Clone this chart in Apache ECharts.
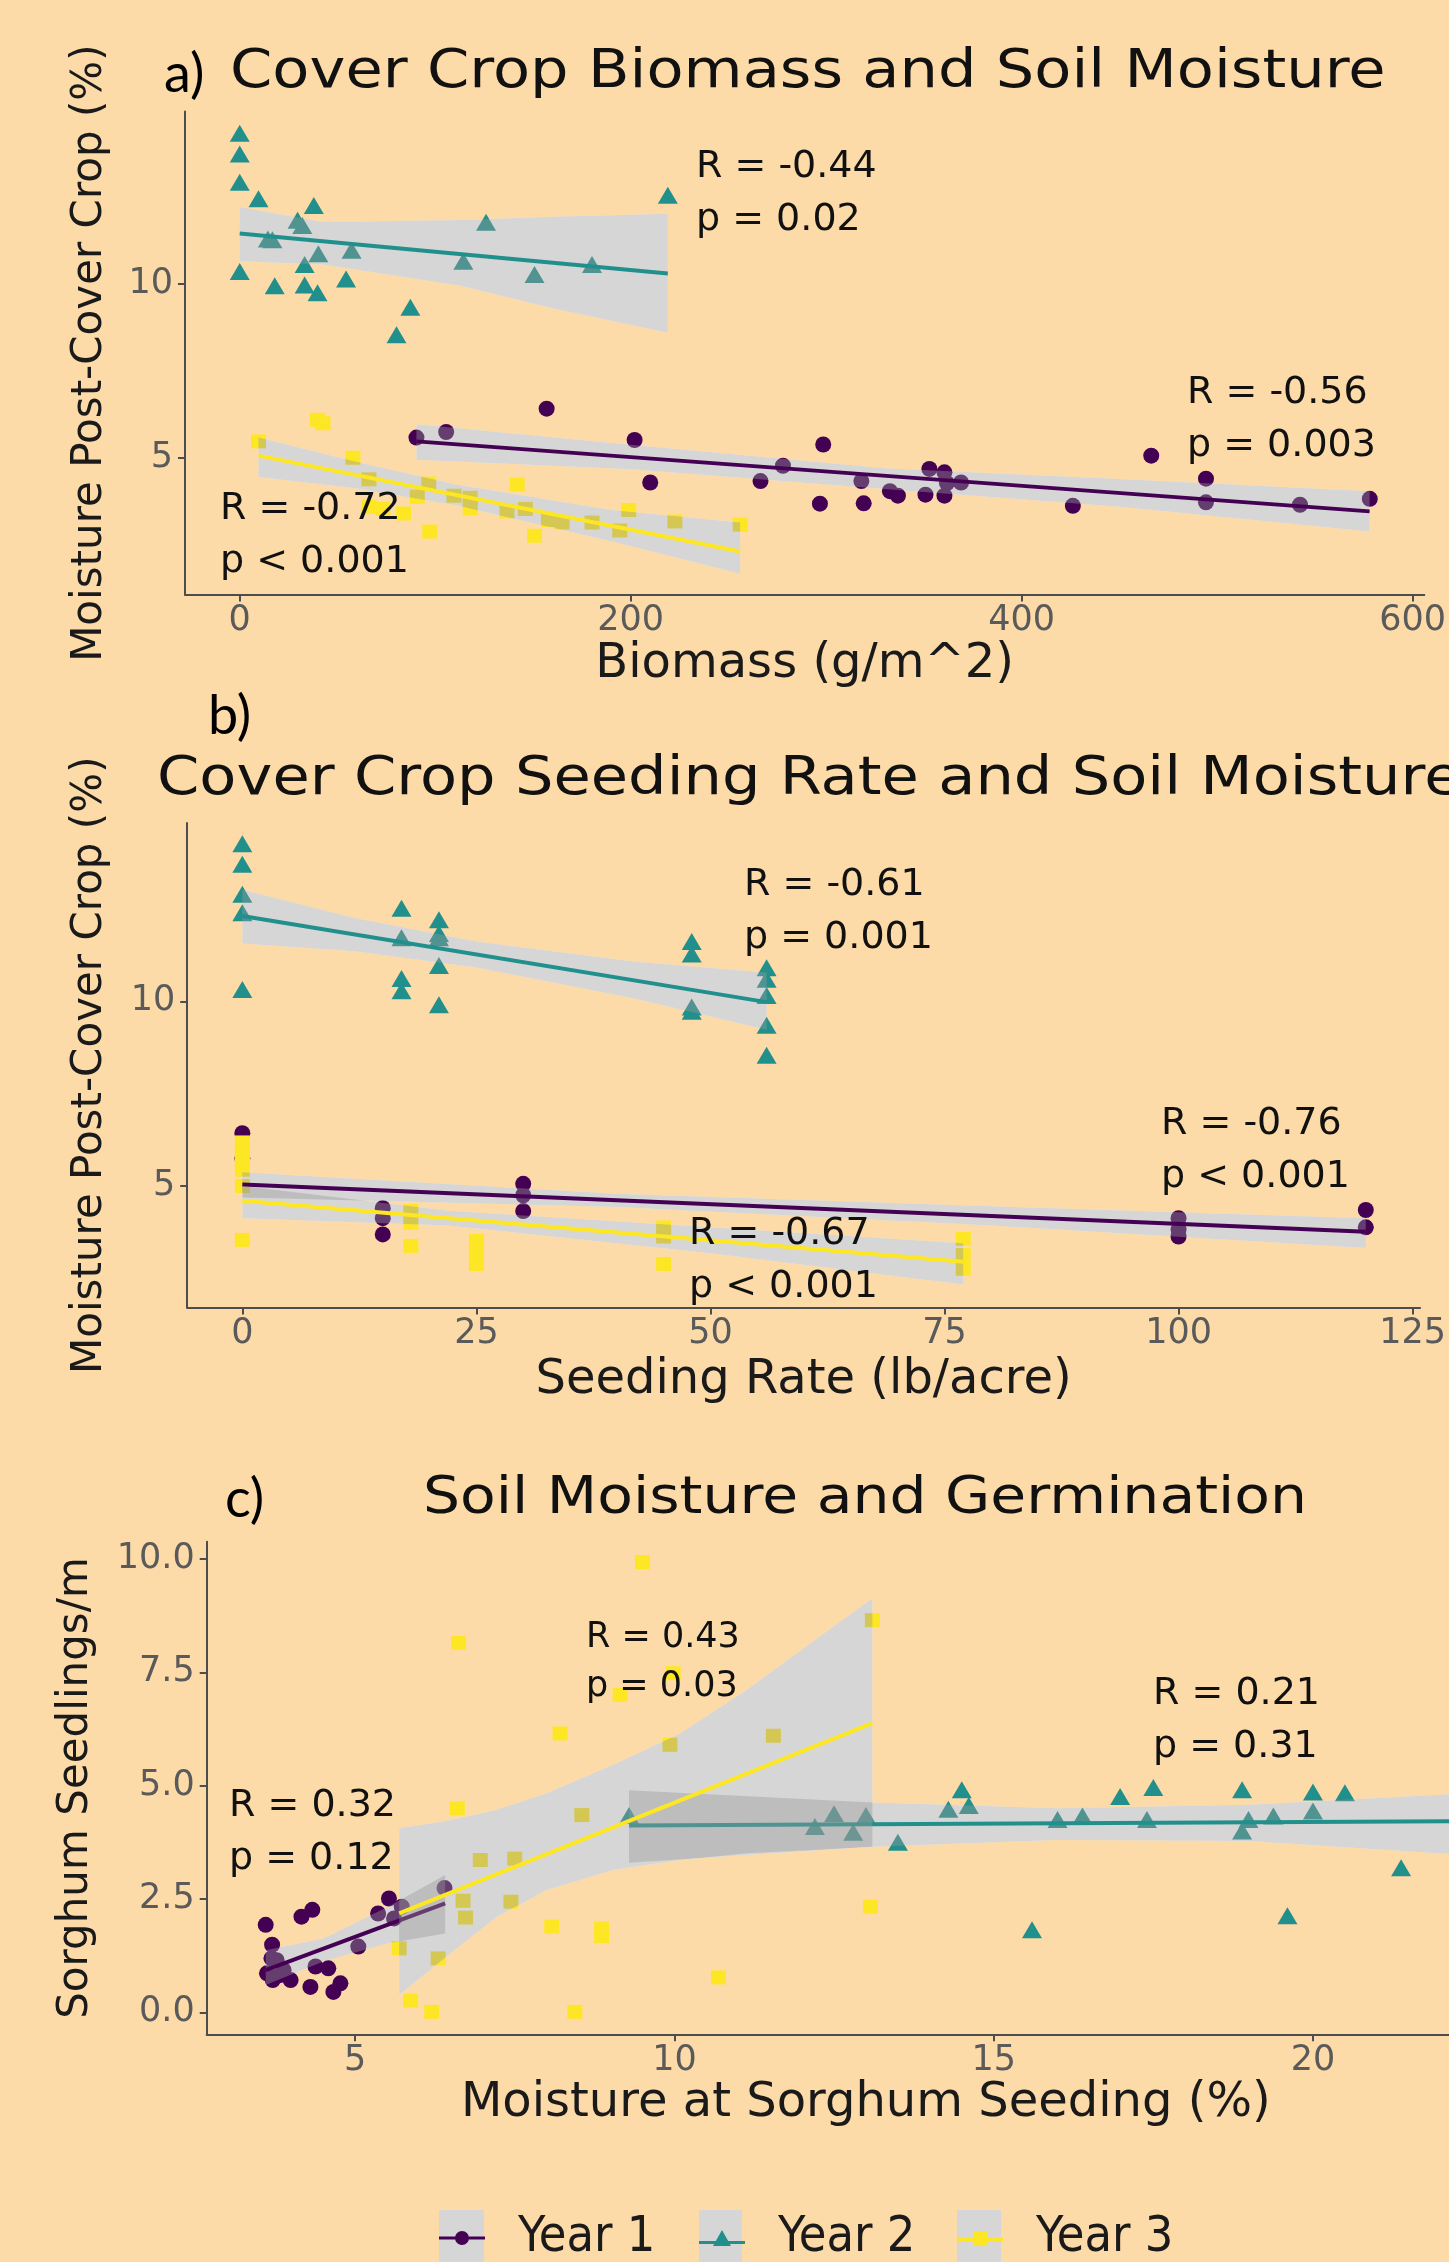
<!DOCTYPE html>
<html><head><meta charset="utf-8">
<script src="https://cdn.jsdelivr.net/npm/echarts@6/dist/echarts.min.js"></script>
<style>html,body{margin:0;padding:0;background:#FDDBA8}#c{width:1449px;height:2262px}</style>
</head><body><div id="c"></div>
<script>
// ---------- names ----------
var yearNames = ['Year 1', 'Year 2', 'Year 3'];
var yearColors = ['#440154', '#21908C', '#FDE725'];
var yearSymbols = ['circle', 'triangle', 'rect'];

// ---------- panel a: Biomass vs moisture ----------
var aYear1 = [[90.4,5.58],[105.6,5.74],[157,6.41],[202,5.51],[210,4.29],[266.4,4.33],[277.9,4.77],[298.5,5.38],[296.8,3.68],[318,4.33],[319.2,3.69],[332.6,4.04],[336.7,3.91],[350.8,3.94],[352.8,4.68],[360.5,4.58],[360.5,3.91],[361.8,4.27],[369,4.29],[426.2,3.62],[466.3,5.06],[494.3,4.40],[494.3,3.72],[542.4,3.65],[578.1,3.82]];
var aYear2 = [[0,14.32],[0,13.72],[0,12.91],[9.6,12.44],[37.9,12.24],[29.6,11.82],[32,11.67],[14.4,11.28],[16.7,11.26],[126,11.76],[219,12.54],[40.2,10.86],[57.2,10.96],[33.2,10.55],[114.4,10.64],[180.2,10.55],[0,10.35],[54.4,10.13],[150.8,10.26],[17.9,9.94],[33.2,9.96],[39.8,9.74],[87.3,9.32],[80.2,8.53]];
var aYear3 = [[9.6,5.47],[39.8,6.09],[42.6,5.99],[57.9,5.0],[66.1,4.38],[96.7,4.26],[90.8,3.88],[66.1,3.59],[73.2,3.53],[83.8,3.40],[97.2,2.88],[109.6,3.91],[117.9,3.85],[117.9,3.55],[136.7,3.46],[141.9,4.23],[146.1,3.53],[150.8,2.76],[157.9,3.21],[164.9,3.14],[180.2,3.14],[194.4,2.91],[199,3.5],[222.6,3.17],[256,3.08]];
var aLine1 = [[90.4,5.47],[578,3.46]];
var aLine2 = [[0,11.44],[219,10.29]];
var aLine3 = [[9.6,5.06],[256,2.31]];
var aBand1 = [[90.4,4.94,5.96],[200,4.67,5.37],[330,4.10,4.70],[450,3.59,4.39],[578,2.88,4.04]];
var aBand2 = [[0,10.64,12.20],[42.6,10.55,11.77],[113,9.94,11.83],[160,9.29,11.92],[219,8.59,12.01]];
var aBand3 = [[9.6,4.45,5.58],[60,4.12,4.88],[110,3.64,4.24],[190,2.60,3.50],[256,1.67,3.14]];
var aXTicks = [0,200,400,600];
var aYTicks = [5,10];

// ---------- panel b: seeding rate vs moisture ----------
var bYear1 = [[0,6.43],[0,5.75],[15,4.40],[15,4.13],[15,3.69],[30,5.06],[30,4.75],[30,4.32],[100,4.13],[100,3.82],[100,3.63],[120,4.35],[120,3.88]];
var bYear2 = [[0,14.27],[0,13.71],[0,12.90],[0,12.40],[0,10.32],[17,12.52],[17,11.72],[17,10.62],[17,10.29],[21,12.21],[21,11.84],[21,11.72],[21,10.97],[21,9.91],[48,11.62],[48,11.28],[48,9.85],[48,9.73],[56,10.91],[56,10.60],[56,10.16],[56,9.35],[56,8.54]];
var bYear3 = [[0,6.18],[0,6.0],[0,5.81],[0,5.62],[0,5.44],[0,5.0],[0,3.54],[18,4.32],[18,4.0],[18,3.38],[25,3.51],[25,3.2],[25,2.89],[45,3.88],[45,3.63],[45,2.89],[77,3.57],[77,3.13],[77,2.76]];
var bLine1 = [[0,5.04],[120,3.76]];
var bLine2 = [[0,12.31],[56,9.98]];
var bLine3 = [[0,4.60],[77,2.95]];
var bBand1 = [[0,4.69,5.37],[40,4.43,4.79],[80,3.93,4.45],[120,3.32,4.13]];
var bBand2 = [[0,11.57,13.02],[12,11.36,12.26],[25,10.92,11.62],[42,10.07,11.07],[56,9.23,10.78]];
var bBand3 = [[0,4.13,5.0],[22,3.93,4.33],[50,3.18,3.88],[77,2.33,3.45]];
var bXTicks = [0,25,50,75,100,125];
var bYTicks = [5,10];

// ---------- panel c: moisture vs germination ----------
var cYear1 = [[3.60,1.93],[3.70,1.49],[3.69,1.19],[3.62,0.86],[3.71,0.71],[3.88,0.93],[3.99,0.71],[4.16,2.11],[4.33,2.26],[4.30,0.56],[4.38,1.01],[4.58,0.97],[4.66,0.45],[4.77,0.64],[5.05,1.45],[5.36,2.18],[5.53,2.51],[5.61,2.07],[5.73,2.33],[6.40,2.74],[3.77,1.15],[3.82,0.82]];
var cYear2 = [[9.29,4.34],[12.20,4.10],[12.50,4.38],[12.80,3.97],[13.0,4.34],[13.5,3.75],[14.29,4.48],[14.50,4.91],[14.61,4.56],[15.6,1.82],[16.0,4.25],[16.39,4.33],[16.98,4.76],[17.5,4.96],[17.4,4.25],[18.89,4.91],[18.99,4.25],[18.89,4.0],[19.38,4.33],[19.6,2.13],[20.0,4.86],[20.0,4.44],[20.5,4.84],[21.38,3.19]];
var cYear3 = [[5.69,1.41],[5.87,0.26],[6.20,0.01],[6.30,1.19],[6.62,8.15],[6.60,4.50],[6.69,2.46],[6.73,2.09],[6.96,3.36],[7.44,2.44],[7.50,3.39],[8.08,1.89],[8.21,6.15],[8.44,0.01],[8.55,4.35],[8.86,1.85],[8.86,1.68],[9.15,7.00],[9.50,9.93],[9.93,5.90],[9.98,7.48],[10.69,0.77],[11.55,6.10],[13.07,2.33],[13.10,8.65]];
var cLine1 = [[3.60,0.93],[6.41,2.40]];
var cLine2 = [[9.29,4.12],[23,4.22]];
var cLine3 = [[5.69,2.18],[13.1,6.38]];
var cBand1 = [[3.60,0.60,1.37],[4.5,1.12,1.63],[5.5,1.52,2.32],[6.41,1.74,3.03]];
var cBand2 = [[9.29,3.30,4.90],[13.1,3.65,4.63],[16.0,3.80,4.50],[19.0,3.78,4.58],[22.13,3.49,4.81],[23,3.38,4.92]];
var cBand3 = [[5.69,0.38,4.06],[6.43,1.23,4.22],[7.22,2.11,4.47],[8.0,2.70,4.83],[9.04,3.14,5.46],[10.09,3.36,6.15],[11.13,3.51,7.11],[12.17,3.58,8.18],[13.1,3.65,9.13]];
var cXTicks = [5,10,15,20];
var cYTicks = [0,2.5,5,7.5,10];

// ---------- texts ----------
var panelLetters = ['a)', 'b)', 'c)'];
var panelTitles = ['Cover Crop Biomass and Soil Moisture', 'Cover Crop Seeding Rate and Soil Moisture', 'Soil Moisture and Germination'];
var xNames = ['Biomass (g/m^2)', 'Seeding Rate (lb/acre)', 'Moisture at Sorghum Seeding (%)'];
var yNames = ['Moisture Post-Cover Crop (%)', 'Moisture Post-Cover Crop (%)', 'Sorghum Seedlings/m'];
var statLabels = [
  ['R = -0.44','p = 0.02'],['R = -0.56','p = 0.003'],['R = -0.72','p < 0.001'],
  ['R = -0.61','p = 0.001'],['R = -0.76','p < 0.001'],['R = -0.67','p < 0.001'],
  ['R = 0.32','p = 0.12'],['R = 0.43','p = 0.03'],['R = 0.21','p = 0.31']
];

// ---------- layout (styles / positions) ----------
var FONT = "'DejaVu Sans','Liberation Sans',sans-serif";
var grids = [
  {left:185, top:111.6, width:1246, height:483},
  {left:187.2, top:823, width:1261.8, height:484.5},
  {left:206.7, top:1541.7, width:1242.3, height:492.6}
];
var xRanges = [[-28,606],[-5.89,125.8],[2.676,22.13]];
var yRanges = [[1.07,14.94],[1.71,14.83],[-0.485,10.38]];
var xNameGap = [46, 49.5, 45.7];
var yNameGap = [74, 76, 110];
var xNamePad = [[0,0,0,0],[0,0,0,0],[0,0,0,76]];
var statPos = [[696,167,38],[1187,393,38],[220,509,38],[744,885,38],[1161,1124,38],[689,1234,38],[229,1806,38],[586,1638,35],[1153,1694,38]];
var letterPos = [[164,75],[208,717],[225,1500]];
var titlePos = [[230,73.5,53],[157,780,53],[423,1500,51]];

var panels = [
  {pts:[aYear1,aYear2,aYear3], lines:[aLine1,aLine2,aLine3], bands:[aBand1,aBand2,aBand3], xt:aXTicks, yt:aYTicks, fmt:function(v){return String(v);}},
  {pts:[bYear1,bYear2,bYear3], lines:[bLine1,bLine2,bLine3], bands:[bBand1,bBand2,bBand3], xt:bXTicks, yt:bYTicks, fmt:function(v){return String(v);}},
  {pts:[cYear1,cYear2,cYear3], lines:[cLine1,cLine2,cLine3], bands:[cBand1,cBand2,cBand3], xt:cXTicks, yt:cYTicks, fmt:function(v){return v.toFixed(1);}}
];

function bandRender(fill) {
  return function (params, api) {
    if (params.dataIndexInside !== 0) return null;
    var n = params.dataInsideLength, lo = [], up = [];
    for (var i = 0; i < n; i++) {
      var x = api.value(0, i);
      lo.push(api.coord([x, api.value(1, i)]));
      up.push(api.coord([x, api.value(2, i)]));
    }
    return {type:'polygon', shape:{points: lo.concat(up.reverse())}, style:{fill: fill}, silent:true};
  };
}

var axisColor = '#4d4d4d';
var xAxes = [], yAxes = [], series = [];
panels.forEach(function (p, g) {
  xAxes.push({
    gridIndex:g, type:'value', min:xRanges[g][0], max:xRanges[g][1],
    name:xNames[g], nameLocation:'middle', nameGap:xNameGap[g],
    nameTextStyle:{fontSize:48, fontFamily:FONT, color:'#1a1a1a', padding:xNamePad[g]},
    axisLine:{onZero:false, lineStyle:{color:axisColor, width:2}},
    axisTick:{show:true, length:7, customValues:p.xt, lineStyle:{color:axisColor, width:2}},
    axisLabel:{customValues:p.xt, fontSize:35, fontFamily:FONT, color:'#5a5a5a', margin:9, formatter:function(v){return String(v);}},
    splitLine:{show:false}
  });
  yAxes.push({
    gridIndex:g, type:'value', min:yRanges[g][0], max:yRanges[g][1],
    name:yNames[g], nameLocation:'middle', nameGap:yNameGap[g],
    nameTextStyle:{fontSize:42, fontFamily:FONT, color:'#1a1a1a'},
    axisLine:{onZero:false, lineStyle:{color:axisColor, width:2}},
    axisTick:{show:true, length:7, customValues:p.yt, lineStyle:{color:axisColor, width:2}},
    axisLabel:{customValues:p.yt, fontSize:35, fontFamily:FONT, color:'#5a5a5a', margin:12, formatter:p.fmt},
    splitLine:{show:false}
  });
  for (var k = 0; k < 3; k++) {
    // white base under each confidence band
    series.push({type:'custom', name:'band base', xAxisIndex:g, yAxisIndex:g, z:1, clip:true, silent:true,
      data:p.bands[k], encode:{x:0, y:[1,2]}, renderItem:bandRender('#ffffff')});
    series.push({type:'scatter', name:yearNames[k], xAxisIndex:g, yAxisIndex:g, z:2,
      symbol:yearSymbols[k], symbolSize: k===0 ? 16 : (k===1 ? [20,17] : [15,14]),
      itemStyle:{color:yearColors[k], opacity:1}, data:p.pts[k], silent:true});
    series.push({type:'custom', name:'band', xAxisIndex:g, yAxisIndex:g, z:3 + 2*k, clip:true, silent:true,
      data:p.bands[k], encode:{x:0, y:[1,2]}, renderItem:bandRender('rgba(153,153,153,0.4)')});
    series.push({type:'line', name:'fit', xAxisIndex:g, yAxisIndex:g, z:4 + 2*k, clip:true, silent:true,
      showSymbol:false, data:p.lines[k], lineStyle:{color:yearColors[k], width:4}, itemStyle:{color:yearColors[k]}});
  }
});

var graphics = [];
panelLetters.forEach(function (t, i) {
  graphics.push({type:'text', x:letterPos[i][0], y:letterPos[i][1], z:100,
    style:{text:t, fontSize:54, fontFamily:"Lato,'Open Sans',sans-serif", fill:'#000', textAlign:'left', textVerticalAlign:'middle', align:'left', verticalAlign:'middle'}});
});
panelTitles.forEach(function (t, i) {
  graphics.push({type:'text', x:titlePos[i][0], y:titlePos[i][1], scaleX:1.145, z:100,
    style:{text:t, fontSize:titlePos[i][2], fontFamily:FONT, fill:'#111', textAlign:'left', textVerticalAlign:'middle', align:'left', verticalAlign:'middle'}});
});
statLabels.forEach(function (pair, i) {
  var pos = statPos[i];
  var gap = pos[2] === 35 ? 49 : 53;
  pair.forEach(function (t, j) {
    graphics.push({type:'text', x:pos[0], y:pos[1] + j*gap, z:100,
      style:{text:t, fontSize:pos[2], fontFamily:FONT, fill:'#111', textAlign:'left', textVerticalAlign:'middle', align:'left', verticalAlign:'middle'}});
  });
});
// legend key backgrounds
var keyBoxes = [[439,45],[699,43],[957,44]];
keyBoxes.forEach(function (b) {
  graphics.push({type:'rect', shape:{x:b[0], y:2210, width:b[1], height:60}, style:{fill:'#D6D6D6'}, z:1});
});

// icons: key line + marker, plus an invisible speck that reserves the gap before the text
var legendIcons = [
  'path://M0,9.5H46V12.5H0Z M23,4A7,7 0 1,1 22.99,4Z M74,0L74.01,0.01L74,0.02Z M74,21.98L74.01,21.99L74,22Z',
  'path://M0,14H46V17H0Z M23,3L32,19H14Z M74,0L74.01,0.01L74,0.02Z M74,21.98L74.01,21.99L74,22Z',
  'path://M0,11H46V14H0Z M16,4H30V18H16Z M74,0L74.01,0.01L74,0.02Z M74,21.98L74.01,21.99L74,22Z'
];
var legendLeft = [439, 699, 957];
var legends = yearNames.map(function (nm, i) {
  return {data:[{name:nm, icon:legendIcons[i]}], left:legendLeft[i], top:2213, padding:0,
    itemWidth:74, itemHeight:22, selectedMode:false,
    textStyle:{fontSize:50, lineHeight:48, fontFamily:"'DejaVu Sans Condensed','DejaVu Sans',sans-serif", color:'#1a1a1a'}};
});

var chart = echarts.init(document.getElementById('c'), null, {renderer:'canvas'});
chart.setOption({
  backgroundColor:'#FDDBA8',
  animation:false,
  grid:grids,
  xAxis:xAxes,
  yAxis:yAxes,
  legend:legends,
  series:series,
  graphic:{elements:graphics}
});
</script></body></html>
